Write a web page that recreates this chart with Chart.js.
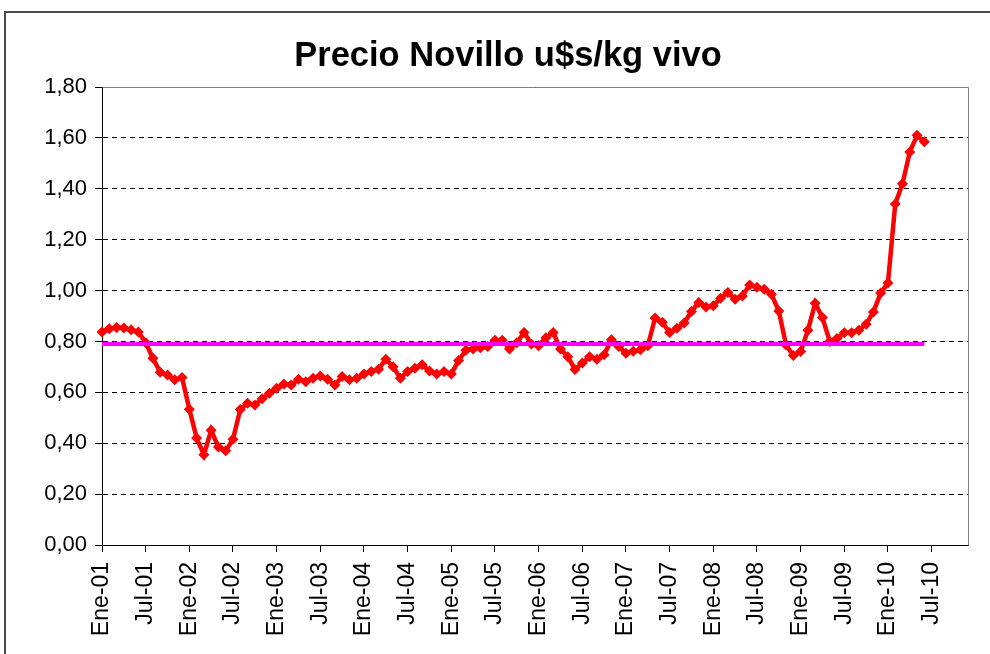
<!DOCTYPE html>
<html>
<head>
<meta charset="utf-8">
<script src="https://cdn.jsdelivr.net/npm/chart.js@4.4.1/dist/chart.umd.min.js"></script>
<style>
  html, body { margin: 0; padding: 0; background: #ffffff; }
  #c { display: block; }
</style>
</head>
<body>
<canvas id="c" width="990" height="654"></canvas>
<script>
// ---- Data ----
const titulo = 'Precio Novillo u$s/kg vivo';
const meses = ['Ene','Feb','Mar','Abr','May','Jun','Jul','Ago','Sep','Oct','Nov','Dic'];
const anios = ['01','02','03','04','05','06','07','08','09','10'];
const categorias = [];
anios.forEach(a => meses.forEach(m => categorias.push(m + '-' + a)));

// Precio Novillo u$s/kg vivo, monthly Ene-01 .. Jun-10
const precio = [
  0.837, 0.850, 0.855, 0.853, 0.846, 0.837, 0.795, 0.734, 0.679, 0.668, 0.649, 0.658,
  0.534, 0.421, 0.355, 0.451, 0.385, 0.370, 0.416, 0.533, 0.557, 0.550, 0.575, 0.596,
  0.616, 0.633, 0.629, 0.651, 0.642, 0.655, 0.664, 0.651, 0.629, 0.662, 0.649, 0.655,
  0.672, 0.682, 0.691, 0.730, 0.701, 0.655, 0.682, 0.695, 0.708, 0.684, 0.672, 0.682,
  0.672, 0.725, 0.765, 0.770, 0.775, 0.780, 0.805, 0.805, 0.770, 0.795, 0.835, 0.790,
  0.783, 0.815, 0.835, 0.770, 0.740, 0.690, 0.715, 0.740, 0.730, 0.748, 0.807, 0.780,
  0.754, 0.761, 0.767, 0.783, 0.892, 0.875, 0.835, 0.852, 0.872, 0.918, 0.953, 0.935,
  0.940, 0.970, 0.992, 0.966, 0.979, 1.022, 1.013, 1.005, 0.985, 0.920, 0.786, 0.745,
  0.760, 0.844, 0.950, 0.894, 0.800, 0.812, 0.834, 0.834, 0.844, 0.868, 0.916, 0.990,
  1.030, 1.340, 1.420, 1.545, 1.610, 1.585
];
const promedioValor = 0.79;
const promedioDesde = 'Ene-01';
const promedioHasta = 'Jun-10';
const yTicks = [0, 0.2, 0.4, 0.6, 0.8, 1.0, 1.2, 1.4, 1.6, 1.8];

const FONT = "'Liberation Sans', Arial, sans-serif";

const framePlugin = {
  id: 'frame',
  afterDatasetsDraw(chart) {
    const ctx = chart.ctx, a = chart.chartArea;
    ctx.save();
    ctx.strokeStyle = '#808080';
    ctx.lineWidth = 1;
    ctx.beginPath();
    ctx.moveTo(Math.round(a.left) + 0.5, Math.round(a.top) + 0.5);
    ctx.lineTo(Math.round(a.right) + 0.5, Math.round(a.top) + 0.5);
    ctx.lineTo(Math.round(a.right) + 0.5, Math.round(a.bottom) + 0.5);
    ctx.stroke();
    ctx.restore();
  },
  afterDraw(chart) {
    const ctx = chart.ctx;
    ctx.save();
    ctx.strokeStyle = '#4a4a4a';
    ctx.lineWidth = 2;
    ctx.strokeRect(5, 12, 1100, 800);
    ctx.fillStyle = '#000';
    ctx.font = 'bold 34.5px ' + FONT;
    ctx.textAlign = 'center';
    ctx.textBaseline = 'alphabetic';
    ctx.fillText(titulo, 508, 66);
    ctx.restore();
  }
};

new Chart(document.getElementById('c'), {
  type: 'line',
  data: {
    labels: categorias,
    datasets: [
      {
        label: 'Precio',
        data: precio,
        borderColor: '#ff0000',
        backgroundColor: '#ff0000',
        borderWidth: 4.5,
        pointStyle: 'rectRot',
        pointRadius: 5.5,
        pointBorderWidth: 0,
        pointBackgroundColor: '#ff0000',
        tension: 0,
        order: 2
      },
      {
        label: 'Promedio',
        data: [{x: promedioDesde, y: promedioValor}, {x: promedioHasta, y: promedioValor}],
        borderColor: '#ff00ff',
        borderWidth: 4,
        pointRadius: 0,
        tension: 0,
        order: 1
      }
    ]
  },
  options: {
    responsive: false,
    animation: false,
    devicePixelRatio: 1,
    layout: { padding: { left: 0, right: 22, top: 87, bottom: 0 } },
    plugins: {
      legend: { display: false },
      tooltip: { enabled: false },
      title: { display: false }
    },
    scales: {
      x: {
        type: 'category',
        offset: false,
        grid: {
          display: true,
          drawOnChartArea: false,
          drawTicks: true,
          tickLength: 7,
          tickColor: ctx => (ctx.index % 6 === 0 ? '#000' : 'rgba(0,0,0,0)'),
          tickWidth: 1
        },
        border: { display: true, color: '#000', width: 1 },
        ticks: {
          autoSkip: false,
          minRotation: 90,
          maxRotation: 90,
          padding: 10,
          color: '#000',
          font: { family: FONT, size: 23 },
          callback: function(val, idx) { return idx % 6 === 0 ? this.getLabelForValue(val) : ''; }
        },
        afterFit: s => { s.height = 109; s.paddingRight = 0; s.paddingLeft = 0; }
      },
      y: {
        min: 0,
        max: 1.8,
        afterBuildTicks: s => { s.ticks = yTicks.map(v => ({value: v})); },
        grid: {
          color: '#000',
          lineWidth: 1,
          drawTicks: true,
          tickLength: 7,
          tickColor: '#000'
        },
        border: { display: true, color: '#000', width: 1, dash: [5, 4] },
        ticks: {
          padding: 8,
          color: '#000',
          font: { family: FONT, size: 22 },
          callback: v => v.toFixed(2).replace('.', ',')
        },
        afterFit: s => { s.width = 102; s.paddingTop = 0; s.paddingBottom = 0; }
      }
    }
  },
  plugins: [framePlugin]
});
</script>
</body>
</html>
